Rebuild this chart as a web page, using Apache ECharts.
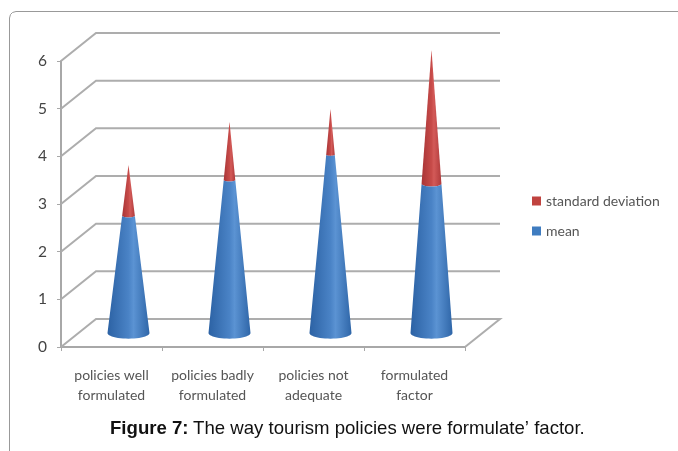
<!DOCTYPE html>
<html><head><meta charset="utf-8">
<style>html,body{margin:0;padding:0;background:#fff}#c{width:678px;height:451px}</style>
<script src="https://cdn.jsdelivr.net/npm/echarts@6/dist/echarts.min.js"></script>
</head><body><div id="c"></div>
<script>
var categories = ['policies well\nformulated','policies badly\nformulated','policies not\nadequate','formulated\nfactor'];
var meanValues = [2.46, 3.21, 3.74, 3.13];
var sdValues = [1.07, 1.22, 0.96, 2.81];
var yTicks = [0,1,2,3,4,5,6];

var chart = echarts.init(document.getElementById('c'));
var DX = 35, DY = 28, BASE_R = 21, RY = 0.27;
var GRID = '#adadad', AXIS = '#a8a8a8';

function grad(a, b, c, d) {
  return new echarts.graphic.LinearGradient(0,0,1,0,[
    {offset:0,color:a},{offset:0.5,color:c},{offset:0.62,color:b},{offset:1,color:d}]);
}
var blue = grad('#2c62a4','#5b93d3','#4a83c6','#2f66a8');
var red = grad('#a83436','#d35a58','#c74b49','#b03a3b');

function arc(cx, cy, r, sign) {
  var pts = [];
  for (var k = 0; k <= 24; k++) {
    var t = Math.PI * k / 24;
    pts.push([cx + r*Math.cos(t), cy + sign*r*RY*Math.sin(t)]);
  }
  return pts;
}
function coneShape(api, i, from, to, total, fill) {
  var c0 = api.coord([i, 0]);
  var cx = c0[0] + DX/2 - 0.5;
  var cy0 = c0[1] - DY/2;
  var unit = c0[1] - api.coord([i, 1])[1];
  var yFrom = cy0 - from*unit, yTo = cy0 - to*unit;
  var rFrom = BASE_R*(1 - from/total), rTo = BASE_R*(1 - to/total);
  var pts = arc(cx, yFrom, rFrom, 1);
  var top = arc(cx, yTo, rTo, 1).reverse();
  return {type:'polygon', shape:{points: pts.concat(top)}, style:{fill:fill}};
}

var option = {
  animation:false,
  backgroundColor:'#fff',
  textStyle:{fontFamily:'Lato'},
  title:{
    left:110, top:419, padding:0,
    text:'{b|Figure 7:} {n|The way tourism policies were formulate’ factor.}',
    textStyle:{fontWeight:'normal',rich:{
      b:{fontFamily:'Liberation Sans',fontSize:18.6,fontWeight:'bold',color:'#111'},
      n:{fontFamily:'Liberation Sans',fontSize:18.6,fontWeight:'normal',color:'#111'}
    }}
  },
  legend:{
    left:532, top:194, padding:0, orient:'vertical', itemWidth:9, itemHeight:9, itemGap:16, icon:'rect',
    data:['standard deviation','mean'],
    textStyle:{fontFamily:'Lato',fontSize:14,color:'#555'}
  },
  grid:{left:61, top:61, width:404, height:286},
  xAxis:{type:'category',data:categories,boundaryGap:true,
    axisLine:{lineStyle:{color:AXIS,width:2}},
    axisTick:{show:true,length:4,alignWithLabel:false,lineStyle:{color:AXIS,width:1}},
    axisLabel:{fontFamily:'Lato',fontSize:14,color:'#555',lineHeight:20,margin:18,interval:0},
    splitLine:{show:false}},
  yAxis:{type:'value',min:0,max:6,interval:1,
    axisLine:{show:true,lineStyle:{color:AXIS,width:2}},
    axisTick:{show:true,length:4,lineStyle:{color:AXIS,width:1}},
    axisLabel:{fontFamily:'Lato',fontSize:15.5,color:'#444',margin:14},
    splitLine:{show:false}},
  graphic:[{type:'polyline',silent:true,z:-1,
    shape:{points:[[9.5,451],[9.5,18],[10.5,14.5],[12.5,12.5],[16,11.5],[678,11.5]]},
    style:{fill:null,stroke:'#999',lineWidth:1}}],
  series:[
    {name:'walls',type:'custom',z:1,silent:true,clip:false,
     data:yTicks.map(function(v){return [0,v];}),
     encode:{x:0,y:1},
     renderItem:function(p,api){
       var v = api.value(1);
       var bw = api.size([1,0])[0];
       var first = api.coord([0,v]);
       var x0 = first[0]-bw/2, y = first[1];
       var x1 = x0 + bw*categories.length;
       var pts = [[x0,y],[x0+DX,y-DY],[x1+DX,y-DY]];
       if (v === 0) pts.push([x1,y]);
       return {type:'polyline',shape:{points:pts},style:{fill:null,stroke:GRID,lineWidth:2}};
     }},
    {name:'standard deviation',type:'custom',z:3,clip:false,
     itemStyle:{color:'#c0433f'},
     data:categories.map(function(c,i){return [i,meanValues[i],sdValues[i]];}),
     encode:{x:0,y:1},
     renderItem:function(p,api){
       var i=api.value(0),m=api.value(1),s=api.value(2);
       return coneShape(api,i,m,m+s,m+s,red);
     }},
    {name:'mean',type:'custom',z:4,clip:false,
     itemStyle:{color:'#3f7cc0'},
     data:categories.map(function(c,i){return [i,meanValues[i],sdValues[i]];}),
     encode:{x:0,y:1},
     renderItem:function(p,api){
       var i=api.value(0),m=api.value(1),s=api.value(2);
       return coneShape(api,i,0,m,m+s,blue);
     }}
  ]
};
chart.setOption(option);
</script></body></html>
